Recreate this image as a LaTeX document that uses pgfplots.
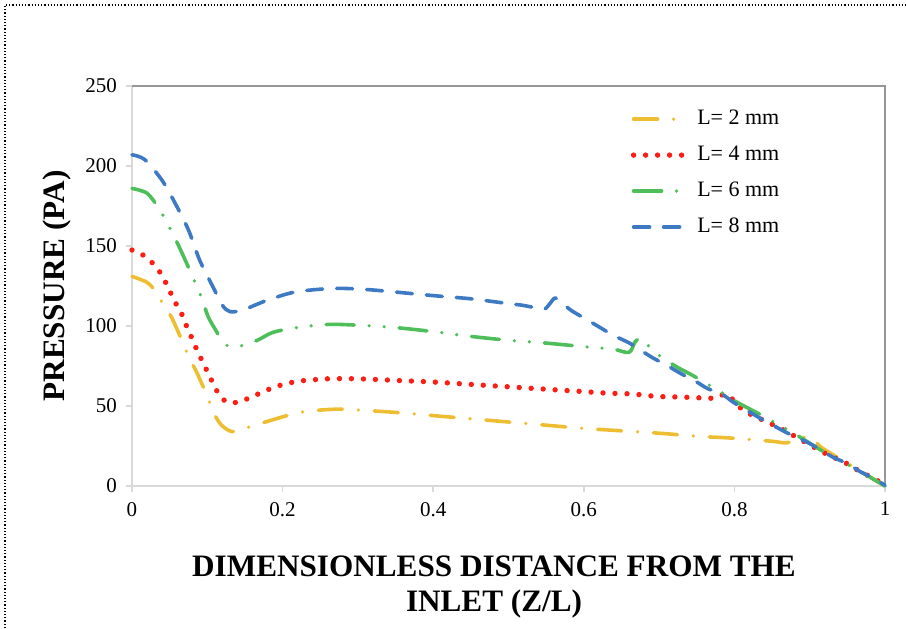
\documentclass[border=0pt]{standalone}
\usepackage{pgfplots}
\pgfplotsset{compat=1.18}
\usepackage{fontspec}
\setmainfont{Liberation Serif}
\definecolor{cy}{RGB}{238,190,50}
\definecolor{cr}{RGB}{250,30,20}
\definecolor{cg}{RGB}{78,190,90}
\definecolor{cb}{RGB}{62,122,196}
\definecolor{axl}{RGB}{217,217,217}
\definecolor{axd}{RGB}{150,150,150}
\begin{document}
\begin{tikzpicture}[x=1pt,y=1pt]
\path[use as bounding box] (-66,-71) rectangle (387,243);
\draw[densely dotted, black, line width=0.6pt] (-63.5,-71) -- (-63.5,240.5) -- (387,240.5);
\begin{axis}[
  at={(0,0)}, anchor=south west,
  scale only axis, width=376.5pt, height=200pt,
  xmin=0, xmax=1, ymin=0, ymax=250,
  xtick={0,0.2,0.4,0.6,0.8,1},
  ytick={0,50,100,150,200,250},
  xticklabels={0,0.2,0.4,0.6,0.8,1},
  axis x line*=bottom, axis y line*=left,
  axis line style={axl, line width=0.9pt, -},
  tick style={axl, line width=0.9pt},
  tick align=outside, major tick length=3pt,
  ticklabel style={font=\fontsize{10.5}{12}\selectfont},
  /pgf/number format/assume math mode=true,
  xticklabel style={yshift=-1.5pt},
  yticklabel style={xshift=-1pt},
  clip=false,
  legend style={at={(0.662,0.95)}, anchor=north west, draw=none, fill=none,
    font=\fontsize{11}{13}\selectfont, row sep=5.2pt, inner sep=0pt,
    /tikz/every odd column/.append style={column sep=2.5pt}},
  legend cell align=left,
  legend image code/.code={\draw[#1] (0pt,0pt) -- (26pt,0pt);},
  every axis plot/.append style={line cap=round, line join=round},
]
\draw[axd, line width=0.9pt] (rel axis cs:0,1) -- (rel axis cs:1,1) -- (rel axis cs:1,0);
\addplot[cy, line width=1.8pt, smooth, dash pattern=on 12pt off 8pt on 0pt off 8pt] coordinates {
(0,131) (0.019,127.5) (0.03,122.5) (0.041,114) (0.053,105) (0.068,89) (0.076,80) (0.086,71)
(0.1,56) (0.108,46) (0.119,38) (0.133,34) (0.15,36) (0.17,39) (0.223,46) (0.27,48) (0.3,47.5)
(0.35,46) (0.4,44) (0.45,42) (0.5,40) (0.55,38) (0.6,36) (0.65,34.5) (0.7,33) (0.754,31)
(0.794,30) (0.849,28) (0.869,27) (0.887,29.4) (0.896,31) (0.904,30) (0.914,24.6) (0.94,17)
(0.97,8.5) (1,0)};
\addlegendentry{L= 2 mm}
\addplot[cr, line width=2.7pt, smooth, dash pattern=on 0pt off 6pt] coordinates {
(0,147.5) (0.016,144) (0.028,139) (0.038,133) (0.046,126) (0.053,119) (0.06,112.5) (0.068,105.6)
(0.074,98) (0.081,91) (0.087,84) (0.094,77.5) (0.101,70.6) (0.109,63) (0.117,56) (0.129,52)
(0.145,53) (0.16,56) (0.175,59) (0.19,62) (0.206,64) (0.222,65.6) (0.26,67) (0.3,67) (0.35,66)
(0.4,65) (0.45,63.5) (0.5,62) (0.533,61) (0.566,60) (0.6,59) (0.632,58) (0.665,57.5) (0.697,56)
(0.728,55.6) (0.761,55) (0.775,55) (0.788,57.5) (0.798,54) (0.81,48) (0.825,44) (0.839,41)
(0.855,37.5) (0.869,34) (0.882,30.6) (0.926,19) (0.942,16) (0.956,12) (0.971,8) (0.984,5) (1,0.5)};
\addlegendentry{L= 4 mm}
\addplot[cg, line width=1.8pt, smooth, dash pattern=on 14pt off 7.5pt on 0pt off 7.5pt on 0pt off 7.5pt] coordinates {
(0,186) (0.02,183) (0.035,174) (0.046,165) (0.057,155) (0.068,144) (0.084,127) (0.093,117)
(0.101,106) (0.113,96) (0.124,88.5) (0.139,87) (0.166,91) (0.187,96) (0.219,99) (0.26,101)
(0.3,100.5) (0.35,99) (0.4,96.5) (0.45,93.5) (0.502,91) (0.548,89.4) (0.591,87.5) (0.615,86.5)
(0.64,85.5) (0.66,83.5) (0.668,90) (0.675,92.5) (0.683,90) (0.688,86) (0.705,80) (0.725,74)
(0.745,69) (0.781,59) (0.803,52.5) (0.843,42.5) (0.882,32) (0.92,21) (0.96,11) (1,0)};
\addlegendentry{L= 6 mm}
\addplot[cb, line width=1.8pt, smooth, dash pattern=on 8pt off 7pt] coordinates {
(0,207) (0.017,204) (0.04,191) (0.057,177) (0.075,160) (0.09,141) (0.108,124) (0.12,113)
(0.13,109) (0.147,110) (0.179,116) (0.214,121) (0.25,123) (0.28,123.5) (0.32,122.5) (0.4,119)
(0.45,117) (0.5,114) (0.518,113) (0.54,111) (0.548,110.5) (0.555,114) (0.562,117.5) (0.572,114)
(0.584,109.5) (0.604,104) (0.62,99.5) (0.64,94) (0.66,89.5) (0.675,85) (0.692,80) (0.71,75.5)
(0.728,70.5) (0.75,65) (0.764,61) (0.785,57) (0.798,52.5) (0.821,46) (0.843,40) (0.871,33)
(0.896,27.5) (0.911,23.6) (0.931,18) (0.95,14) (0.967,9) (0.984,5) (1,0.5)};
\addlegendentry{L= 8 mm}
\end{axis}
\node[align=center, font=\bfseries\fontsize{15.6}{17.5}\selectfont] at (181,-50.5)
  {DIMENSIONLESS DISTANCE FROM THE\\INLET (Z/L)};
\node[rotate=90, font=\bfseries\fontsize{15.6}{17.5}\selectfont] at (-37.5,100) {PRESSURE (PA)};
\end{tikzpicture}
\end{document}
